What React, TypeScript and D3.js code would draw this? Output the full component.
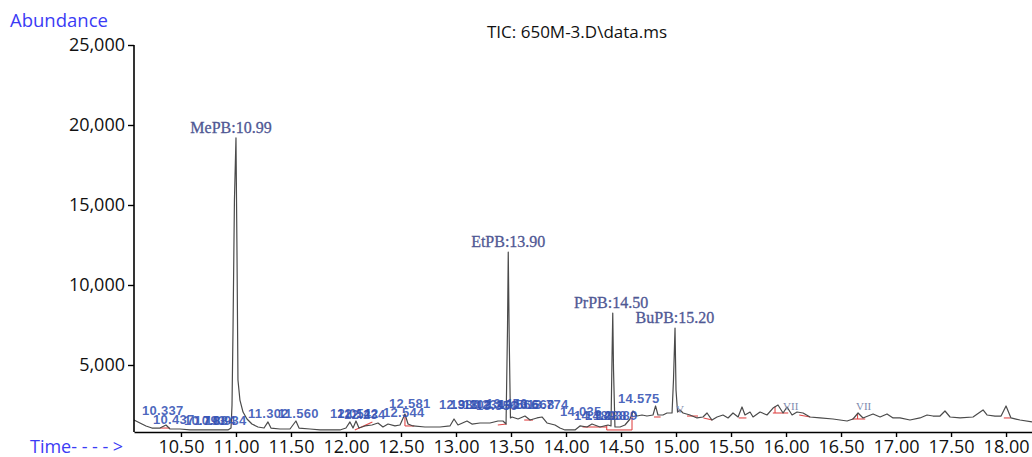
import { useEffect, useRef } from 'react';
import * as d3 from 'd3';

// TIC trace (time in min, abundance)
const TIMES = [
  10.073, 10.127, 10.182, 10.236, 10.309, 10.364, 10.4, 10.491, 10.582, 10.673, 10.764, 10.855, 10.927, 10.955,
  10.964, 10.973, 10.986, 11.0, 11.009, 11.018, 11.036, 11.064, 11.1, 11.145, 11.2, 11.255, 11.291, 11.318, 11.4,
  11.491, 11.545, 11.573, 11.673, 11.764, 11.855, 11.945, 12.0, 12.036, 12.064, 12.091, 12.118, 12.173, 12.236,
  12.291, 12.336, 12.382, 12.445, 12.491, 12.536, 12.564, 12.609, 12.718, 12.855, 12.945, 12.982, 13.018, 13.1,
  13.145, 13.218, 13.309, 13.382, 13.427, 13.455, 13.468, 13.475, 13.484, 13.495, 13.509, 13.564, 13.627, 13.673,
  13.736, 13.782, 13.827, 13.9, 13.945, 13.991, 14.082, 14.127, 14.191, 14.236, 14.309, 14.382, 14.409, 14.418,
  14.425, 14.432, 14.445, 14.491, 14.536, 14.582, 14.609, 14.645, 14.691, 14.736, 14.791, 14.814, 14.836, 14.882,
  14.918, 14.964, 14.977, 14.991, 15.0, 15.014, 15.036, 15.064, 15.127, 15.191, 15.245, 15.282, 15.327, 15.373,
  15.427, 15.473, 15.518, 15.564, 15.6, 15.627, 15.673, 15.7, 15.764, 15.827, 15.882, 15.927, 15.973, 16.009,
  16.055, 16.1, 16.155, 16.218, 16.309, 16.427, 16.555, 16.609, 16.655, 16.7, 16.745, 16.791, 16.855, 16.918,
  16.973, 17.036, 17.127, 17.218, 17.282, 17.336, 17.4, 17.445, 17.491, 17.582, 17.7, 17.791, 17.827, 17.9,
  17.955, 18.0, 18.045, 18.127, 18.236,
];
const ABUNDANCE = [
  1560, 1375, 1190, 1060, 1060, 1250, 1000, 1000, 940, 940, 940, 940, 940, 1060,
  2500, 7190, 15310, 19190, 12190, 4060, 2810, 2060, 1625, 1310, 1125, 1060, 1440, 1060, 1000,
  1000, 1500, 1060, 1000, 940, 940, 940, 1060, 1440, 1060, 1500, 1060, 1190, 1250,
  1375, 1125, 1310, 1190, 1250, 1940, 1310, 1190, 1125, 1125, 1190, 1625, 1250, 1500,
  1310, 1375, 1375, 1500, 1500, 1310, 7190, 12060, 6560, 1690, 1750, 1625, 1810, 1560,
  1690, 1750, 1375, 1250, 1060, 940, 940, 1190, 1125, 1310, 1125, 1250, 1190, 5310,
  8250, 4690, 1125, 1125, 1250, 1625, 2125, 1810, 1875, 1810, 1875, 2440, 1875, 1875,
  2000, 2000, 4060, 7310, 3440, 2060, 2190, 2000, 1875, 1690, 1750, 2000, 1560, 1750,
  1875, 1690, 2000, 1750, 2375, 1875, 2060, 1750, 2060, 1875, 2310, 2500, 2000, 2375,
  1875, 2060, 2000, 1750, 1690, 1625, 1500, 1625, 2000, 1690, 1810, 1940, 1750, 1940,
  1690, 1690, 1560, 1690, 1875, 1810, 1810, 2125, 1750, 1690, 1750, 2190, 1875, 1810,
  1810, 2440, 1690, 1560, 1440,
];

const Y_TICKS = [5000, 10000, 15000, 20000, 25000];
const X_TICKS = [10.5, 11, 11.5, 12, 12.5, 13, 13.5, 14, 14.5, 15, 15.5, 16, 16.5, 17, 17.5, 18];

const PEAK_NAMES = ['MePB:10.99', 'EtPB:13.90', 'PrPB:14.50', 'BuPB:15.20'];
const PEAK_LABEL_TIMES = [10.955, 13.475, 14.41, 14.99];
const PEAK_TOPS = [19190, 12060, 8250, 7310];

// integration labels (text start time, baseline abundance)
const MINOR_TEXTS = [
  '10.337', '10.437', '10.793', '10.884', '10.934', '11.302', '11.560', '12.051', '12.142', '12.234', '12.544',
  '12.581', '12.980', '13.102', '13.234', '13.356', '13.456', '13.566', '13.668', '13.774', '14.035', '14.189',
  '14.288', '14.389', '14.575',
];
const MINOR_TIMES = [
  10.145, 10.245, 10.527, 10.62, 10.718, 11.109, 11.382, 11.855, 11.918, 11.982, 12.336,
  12.391, 12.845, 12.945, 13.064, 13.182, 13.273, 13.373, 13.518, 13.645, 13.945, 14.073,
  14.173, 14.273, 14.473,
];
const MINOR_LEVELS = [
  1875, 1310, 1250, 1250, 1250, 1690, 1690, 1690, 1690, 1630, 1750,
  2310, 2250, 2250, 2250, 2190, 2310, 2250, 2250, 2250, 1810, 1560,
  1560, 1560, 2625,
];

const ROMAN_TEXTS = ['V', 'VII', 'VII'];
const ROMAN_TIMES = [15.0, 15.973, 16.636];
const ROMAN_LEVELS = [2000, 2190, 2190];

// red integration baselines [t1, a1, t2, a2]
const BASELINES: [number, number, number, number][] = [
  [10.31, 1060, 10.4, 1060],
  [12.08, 940, 12.24, 1440],
  [12.536, 1190, 12.536, 1900],
  [12.536, 1190, 12.62, 1190],
  [13.38, 1250, 13.46, 1310],
  [13.62, 1560, 13.7, 1560],
  [14.15, 1125, 14.37, 1125],
  [14.37, 940, 14.6, 940],
  [14.37, 940, 14.37, 1250],
  [14.6, 940, 14.6, 2060],
  [14.8, 1750, 14.86, 1750],
  [15.1, 1810, 15.2, 1810],
  [15.25, 1690, 15.33, 1560],
  [15.57, 1690, 15.64, 1690],
  [15.88, 2000, 16.02, 2000],
  [15.9, 2000, 15.9, 2400],
  [16.12, 1875, 16.22, 1750],
  [16.6, 1625, 16.72, 1625],
  [16.65, 1625, 16.65, 2000],
  [17.98, 1690, 18.04, 1690],
];

const W = 1032;
const H = 457;
const SANS = "'Open Sans', sans-serif";

const App = () => {
  const svgRef = useRef<SVGSVGElement | null>(null);

  useEffect(() => {
    const svg = d3.select(svgRef.current);
    svg.selectAll('*').remove();

    const x = d3.scaleLinear().domain([10.073, 18.236]).range([134, W]);
    const y = d3.scaleLinear().domain([812, 25000]).range([432, 45]);

    // title + axis names
    svg.append('text').attr('x', 487).attr('y', 38).attr('font-family', SANS).attr('font-size', 17)
      .attr('fill', '#111').text('TIC: 650M-3.D\\data.ms');
    svg.append('text').attr('x', 10).attr('y', 27).attr('font-family', SANS).attr('font-size', 18.5)
      .attr('fill', '#3b3bf5').text('Abundance');
    const tl = svg.append('text').attr('x', 30).attr('y', 453).attr('font-family', SANS).attr('font-size', 18)
      .attr('fill', '#3b3bf5');
    tl.append('tspan').text('Time');
    tl.append('tspan').attr('letter-spacing', 4.6).text('---->');

    // red integration baselines
    svg.append('g').selectAll('line').data(BASELINES).enter().append('line')
      .attr('x1', (d) => x(d[0])).attr('y1', (d) => y(d[1]))
      .attr('x2', (d) => x(d[2])).attr('y2', (d) => y(d[3]))
      .attr('stroke', '#e04848').attr('stroke-width', 1.1);

    // trace
    const pts = TIMES.map((t, i) => [t, ABUNDANCE[i]] as [number, number]);
    const line = d3.line<[number, number]>().x((d) => x(d[0])).y((d) => y(d[1]));
    svg.append('path').datum(pts).attr('d', line).attr('fill', 'none')
      .attr('stroke', '#4a4a4a').attr('stroke-width', 1.2).attr('stroke-linejoin', 'round');

    // minor labels
    svg.append('g').selectAll('text').data(MINOR_TEXTS).enter().append('text')
      .attr('x', (_, i) => x(MINOR_TIMES[i])).attr('y', (_, i) => y(MINOR_LEVELS[i]))
      .attr('font-family', "'Liberation Sans', Arial, sans-serif").attr('font-size', 13)
      .attr('letter-spacing', 0.3).attr('font-weight', 'bold')
      .attr('fill', '#3452b4').attr('fill-opacity', 0.88).text((d) => d);

    svg.append('g').selectAll('text').data(ROMAN_TEXTS).enter().append('text')
      .attr('x', (_, i) => x(ROMAN_TIMES[i])).attr('y', (_, i) => y(ROMAN_LEVELS[i]))
      .attr('font-family', "'Liberation Serif', serif").attr('font-size', 11)
      .attr('fill', '#7d8aae').text((d) => d);

    // peak labels
    svg.append('g').selectAll('text').data(PEAK_NAMES).enter().append('text')
      .attr('x', (_, i) => x(PEAK_LABEL_TIMES[i])).attr('y', (_, i) => y(PEAK_TOPS[i]) - 5)
      .attr('text-anchor', 'middle').attr('font-family', "'Liberation Serif', 'Times New Roman', serif")
      .attr('font-size', 16).attr('fill', '#4f5894').attr('stroke', '#4f5894').attr('stroke-width', 0.3)
      .text((d) => d);

    // axes
    const ya = svg.append('g').attr('transform', 'translate(134,0)')
      .call(d3.axisLeft(y).tickValues(Y_TICKS).tickFormat(d3.format(',') as any).tickSize(6).tickSizeOuter(0));
    ya.select('.domain').attr('stroke', '#000').attr('stroke-width', 1.6).attr('d', `M0,${y(25000)}V432`);
    ya.selectAll('.tick line').attr('stroke', '#000').attr('stroke-width', 1.4);
    ya.selectAll('.tick text').attr('font-family', SANS).attr('font-size', 18).attr('fill', '#111');

    const xa = svg.append('g').attr('transform', 'translate(0,432)')
      .call(d3.axisBottom(x).tickValues(X_TICKS).tickFormat(d3.format('.2f') as any).tickSize(5).tickPadding(3.5).tickSizeOuter(0));
    xa.select('.domain').attr('stroke', '#000').attr('stroke-width', 1.6);
    xa.selectAll('.tick line').attr('stroke', '#000').attr('stroke-width', 1.4);
    xa.selectAll('.tick text').attr('font-family', SANS).attr('font-size', 18).attr('fill', '#111');
  }, []);

  return (
    <svg ref={svgRef} width={W} height={H}
      style={{ position: 'absolute', left: 0, top: 0, background: '#fff', display: 'block' }} />
  );
};

export default App;
